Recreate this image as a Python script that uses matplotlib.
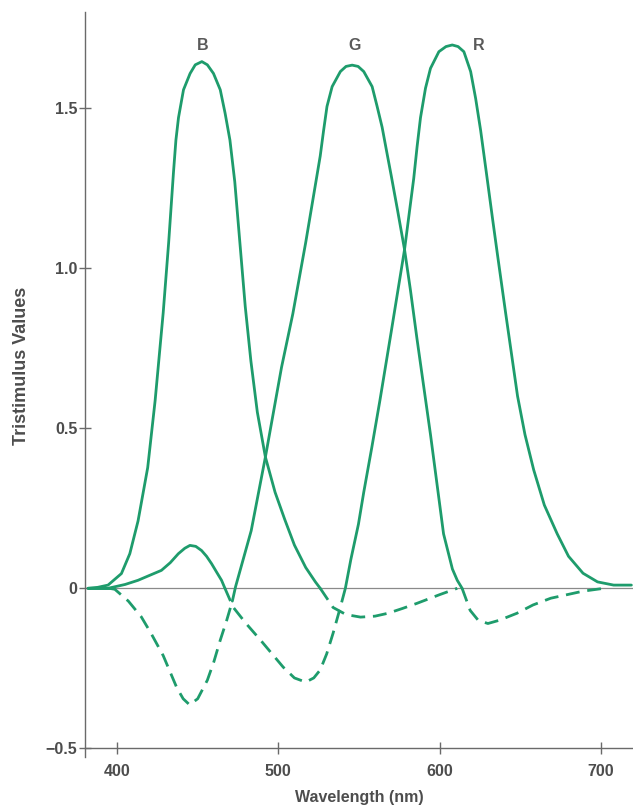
import numpy as np
import matplotlib
matplotlib.use("Agg")
import matplotlib.pyplot as plt
from matplotlib import font_manager

"""
Tristimulus values (B, G, R) against wavelength.
Solid where the value is positive, dashed where it goes negative.
"""

# values
b_wavelength = [382, 388, 394.4, 402.7, 407.9, 411, 413, 419, 423.6, 428.6, 432, 435, 436.5,
                438.1, 441.2, 445.3, 448.5, 452.6, 456, 459.8, 464, 467, 470, 473, 476,
                479.5, 483, 487, 492, 498, 504, 510, 517, 523, 526, 530, 534, 542, 551, 560,
                568, 577, 586, 600, 611]
b_values = [0.0, 0.003, 0.01, 0.046, 0.108, 0.17, 0.21, 0.377, 0.586, 0.86, 1.08, 1.30, 1.40,
            1.47, 1.557, 1.608, 1.635, 1.645, 1.635, 1.608, 1.557, 1.484, 1.40, 1.27, 1.09,
            0.88, 0.71, 0.55, 0.41, 0.30, 0.215, 0.135, 0.065, 0.02, 0.0, -0.03, -0.06, -0.082,
            -0.09, -0.087, -0.078, -0.063, -0.047, -0.02, 0.0]

g_wavelength = [382, 395, 398.6, 407, 415, 421, 428.6, 437, 441, 445, 450, 456, 460, 464,
                468, 471.5, 473.5, 483.2, 492, 502, 509, 517, 523, 526, 528.1, 530.2, 533.4,
                538.5, 542, 545.8, 549.5, 553, 558.2, 561.3, 564.4, 567, 570, 574, 578.3,
                582, 586, 594.4, 602.5, 608, 611, 614, 619, 624, 630, 637, 648, 658, 669,
                689, 702]
g_values = [0.0, 0.0, -0.003, -0.04, -0.089, -0.14, -0.21, -0.31, -0.345, -0.364, -0.345,
            -0.287, -0.23, -0.162, -0.1, -0.04, 0.005, 0.18, 0.41, 0.69, 0.857, 1.08, 1.26,
            1.35, 1.43, 1.505, 1.567, 1.614, 1.63, 1.634, 1.63, 1.614, 1.567, 1.505, 1.44,
            1.37, 1.29, 1.18, 1.058, 0.93, 0.78, 0.48, 0.17, 0.06, 0.025, 0.0, -0.069,
            -0.10, -0.11, -0.10, -0.078, -0.052, -0.031, -0.009, 0.0]

r_wavelength = [382, 394.4, 405, 413, 420, 427.5, 433, 438, 442, 445.2, 448.8, 452.4, 455.5,
                458.6, 461.8, 464.8, 466.9, 472, 480, 489, 503, 510, 517, 522, 526, 530, 534,
                538.5, 541.6, 545, 549.7, 553, 558, 563, 570, 578.3, 584, 586.1, 588.2, 591.3,
                594.4, 599.6, 604, 607.9, 611.5, 615.1, 619.3, 622.4, 625.5, 629, 633, 636,
                641, 648.4, 653, 658.4, 665, 673, 680, 689, 698, 708, 719]
r_values = [0.0, 0.0, 0.012, 0.025, 0.04, 0.056, 0.08, 0.108, 0.125, 0.134, 0.131, 0.118, 0.1,
            0.077, 0.05, 0.025, 0.0, -0.059, -0.11, -0.162, -0.246, -0.28, -0.293, -0.28,
            -0.255, -0.205, -0.14, -0.059, 0.0, 0.09, 0.2, 0.30, 0.44, 0.586, 0.80, 1.058,
            1.28, 1.38, 1.47, 1.562, 1.624, 1.676, 1.692, 1.697, 1.692, 1.676, 1.614, 1.53,
            1.43, 1.30, 1.15, 1.04, 0.86, 0.6, 0.48, 0.37, 0.26, 0.17, 0.10, 0.047, 0.02,
            0.01, 0.01]

curve_names = ['B', 'G', 'R']
label_positions = [453, 547, 624]

y_ticks = [-0.5, 0, 0.5, 1.0, 1.5]
y_tick_labels = ['\u22120.5', '0', '0.5', '1.0', '1.5']
x_ticks = [400, 500, 600, 700]


def plot_signed(ax, x, y, color, line_width):
    """Draw solid segments where y >= 0 and dashed ones where y <= 0."""
    x = np.asarray(x, dtype=float)
    y = np.asarray(y, dtype=float)
    negative = [(y[i] <= 0 and y[i + 1] <= 0 and min(y[i], y[i + 1]) < 0)
                for i in range(len(x) - 1)]

    start = 0
    for i in range(1, len(negative) + 1):
        if i == len(negative) or negative[i] != negative[start]:
            seg = slice(start, i + 1)
            if negative[start]:
                ax.plot(x[seg], y[seg], color=color, linewidth=line_width,
                        linestyle=(0, (5.0, 2.8)), dash_capstyle='butt',
                        dash_joinstyle='round')
            else:
                ax.plot(x[seg], y[seg], color=color, linewidth=line_width,
                        solid_capstyle='round', solid_joinstyle='round')
            start = i


# a condensed sans is closest to the original typeface
installed = {f.name for f in font_manager.fontManager.ttflist}
font = [name for name in ['Liberation Sans Narrow', 'Liberation Sans', 'DejaVu Sans']
        if name in installed]
narrow = font[0] == 'Liberation Sans Narrow'
tick_size = 13 if narrow else 11.5
xlabel_size = 13 if narrow else 11.5
ylabel_size = 15 if narrow else 13

fig = plt.figure(figsize=(6.33, 8.10), dpi=100)
ax = fig.add_axes([0.134, 0.0654, 0.866, 0.9198])

text_color = '#4d4d4d'
axis_color = '#6a6a6a'
curve_color = '#1e9c6c'
line_width = 2.0

# zero line
ax.axhline(0, color='#8a8a8a', linewidth=0.9, zorder=1)

for xs, ys in [(b_wavelength, b_values), (g_wavelength, g_values), (r_wavelength, r_values)]:
    plot_signed(ax, xs, ys, curve_color, line_width)

for name, pos in zip(curve_names, label_positions):
    ax.text(pos, 1.695, name, ha='center', va='center', fontsize=tick_size,
            fontweight='bold', color='#5a5a5a', family=font)

ax.set_xlim(380, 720)
ax.set_ylim(-0.527, 1.80)

ax.set_xticks(x_ticks)
ax.set_xticklabels([str(t) for t in x_ticks])
ax.set_yticks(y_ticks)
ax.set_yticklabels(y_tick_labels)

# axes look: only left and bottom, bottom spine sitting at -0.5
ax.spines['right'].set_color('none')
ax.spines['top'].set_color('none')
ax.spines['bottom'].set_position(('data', -0.5))
for side in ['left', 'bottom']:
    ax.spines[side].set_color(axis_color)
    ax.spines[side].set_linewidth(1.0)

ax.tick_params(axis='both', direction='inout', length=8.5, width=1.0,
               color=axis_color, labelcolor=text_color, labelsize=tick_size)
ax.tick_params(axis='y', pad=1)
ax.tick_params(axis='x', pad=7)
for label in ax.get_xticklabels() + ax.get_yticklabels():
    label.set_family(font)
    label.set_fontweight('bold')

ax.set_xlabel('Wavelength (nm)', fontsize=xlabel_size, fontweight='bold',
              color=text_color, family=font, labelpad=8)
ax.set_ylabel('Tristimulus Values', fontsize=ylabel_size, fontweight='bold',
              color=text_color, family=font)
ax.yaxis.set_label_coords(-0.10, 0.525)

ax.patch.set_alpha(0)
fig.savefig('out.png', dpi=100, facecolor='white')
